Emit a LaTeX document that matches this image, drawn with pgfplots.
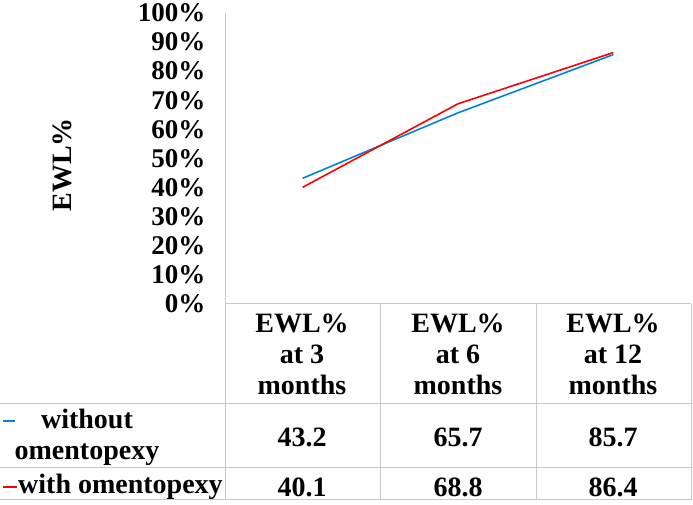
\documentclass[border=0pt]{standalone}
\usepackage{pgfplots}
\pgfplotsset{compat=1.18}
\usepackage{fontspec}
\setmainfont{Liberation Serif}
\definecolor{serblue}{RGB}{0,132,212}
\definecolor{serred}{RGB}{255,0,0}
\definecolor{gridgray}{RGB}{200,200,200}
\begin{document}
\begin{tikzpicture}[font=\fontsize{28}{31}\selectfont\bfseries]
\useasboundingbox (0pt,0pt) rectangle (693pt,505pt);
\begin{axis}[
  at={(225pt,201pt)}, anchor=south west,
  width=466pt, height=291pt, scale only axis,
  xmin=0, xmax=3, ymin=0, ymax=100,
  axis y line*=left, axis x line*=bottom,
  axis line style={gridgray, line width=1pt},
  xtick=\empty,
  ytick={0,10,...,100},
  major tick length=0pt,
  yticklabel={\pgfmathprintnumber{\tick}\%},
  y tick label style={font=\fontsize{27}{31}\selectfont\bfseries, xshift=-16pt},
  /pgf/number format/assume math mode=true,
  clip=false,
]
\addplot[serblue, line width=1.6pt] coordinates {(0.5,43.2)(1.5,65.7)(2.5,85.7)};
\addplot[serred, line width=1.6pt] coordinates {(0.5,40.1)(1.5,68.8)(2.5,86.4)};
\end{axis}
% y label
\node[rotate=90] at (62pt,340pt) {EWL\%};
% data table grid
\draw[gridgray, line width=1pt] (225pt,201pt) -- (691pt,201pt);
\draw[gridgray, line width=1pt] (0pt,101pt) -- (691pt,101pt);
\draw[gridgray, line width=1pt] (0pt,37pt) -- (691pt,37pt);
\draw[gridgray, line width=1pt] (0pt,5pt) -- (691pt,5pt);
\draw[gridgray, line width=1pt] (225pt,201pt) -- (225pt,5pt);
\draw[gridgray, line width=1pt] (380pt,201pt) -- (380pt,5pt);
\draw[gridgray, line width=1pt] (536pt,201pt) -- (536pt,5pt);
\draw[gridgray, line width=1pt] (691pt,201pt) -- (691pt,5pt);
% header
\node[align=center] at (302pt,151pt) {EWL\%\\at 3\\months};
\node[align=center] at (458pt,151pt) {EWL\%\\at 6\\months};
\node[align=center] at (613pt,151pt) {EWL\%\\at 12\\months};
% rows
\draw[serblue, line width=1.6pt] (3pt,84pt) -- (15pt,84pt);
\node[align=center] at (87pt,68pt) {without\\omentopexy};
\node at (302pt,68pt) {43.2};
\node at (458pt,68pt) {65.7};
\node at (613pt,68pt) {85.7};
\draw[serred, line width=1.6pt] (3pt,18pt) -- (17pt,18pt);
\node[anchor=west, inner sep=0pt] at (18pt,18pt) {with omentopexy};
\node at (302pt,18pt) {40.1};
\node at (458pt,18pt) {68.8};
\node at (613pt,18pt) {86.4};
\end{tikzpicture}
\end{document}
